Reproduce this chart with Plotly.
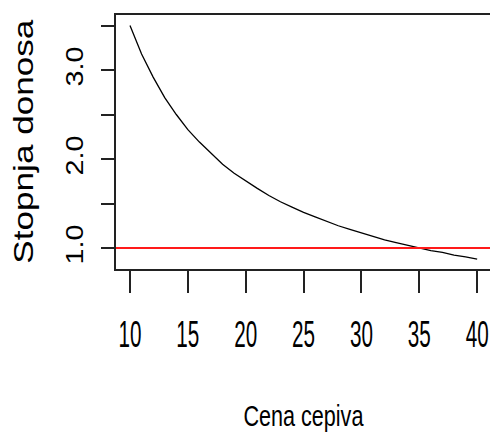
import plotly.graph_objects as go

# Vaccine price (Cena cepiva) and the resulting rate of return (Stopnja donosa)
cena = [10, 11, 12, 13, 14, 15, 16, 17, 18, 19, 20, 21, 22, 23, 24, 25,
        26, 27, 28, 29, 30, 31, 32, 33, 34, 35, 36, 37, 38, 39, 40]
donos = [3.50, 3.18, 2.92, 2.69, 2.50, 2.33, 2.19, 2.06, 1.94, 1.84, 1.75,
         1.67, 1.59, 1.52, 1.46, 1.40, 1.35, 1.30, 1.25, 1.21, 1.17, 1.13,
         1.09, 1.06, 1.03, 1.00, 0.97, 0.95, 0.92, 0.90, 0.875]
prag = 1.0  # break-even level

x_ticks = [10, 15, 20, 25, 30, 35, 40]
y_ticks = [1.0, 1.5, 2.0, 2.5, 3.0, 3.5]
y_labels = ["1.0", "", "2.0", "", "3.0", ""]

fig = go.Figure()
fig.add_trace(go.Scatter(x=cena, y=donos, mode="lines",
                         line=dict(color="black", width=1.3),
                         showlegend=False, hoverinfo="skip"))

fig.add_shape(type="line", xref="paper", x0=0, x1=1, yref="y", y0=prag, y1=prag,
              line=dict(color="#ff1a1a", width=2.2))

font = "Liberation Sans, Arial, sans-serif"

fig.update_layout(
    width=490, height=436,
    margin=dict(l=116, r=0, t=15, b=167, autoexpand=False),
    paper_bgcolor="white", plot_bgcolor="white",
    xaxis=dict(range=[8.79, 41.11], tickvals=x_ticks, automargin=False,
               ticks="outside", ticklen=22, tickwidth=1.5, tickcolor="#222",
               showline=True, linecolor="#222", linewidth=1.5, mirror=True,
               showgrid=False, zeroline=False, ticklabeloverflow="allow",
               tickfont=dict(family=font, size=37, color="black"),
               ticklabelstandoff=10),
    yaxis=dict(range=[0.764, 3.618], tickvals=y_ticks, ticktext=y_labels,
               automargin=False,
               ticks="outside", ticklen=13, tickwidth=1.5, tickcolor="#222",
               showline=True, linecolor="#222", linewidth=1.5,
               showgrid=False, zeroline=False, tickangle=-90,
               tickfont=dict(family=font, size=24, color="black"),
               ticklabelstandoff=9),
    annotations=[
        dict(text="Cena cepiva", xref="paper", yref="paper", x=0.5, y=-0.575,
             xanchor="center", yanchor="middle", showarrow=False,
             font=dict(family=font, size=30, color="black")),
        dict(text="Stopnja donosa", xref="paper", yref="paper", x=-0.246, y=0.504,
             xanchor="center", yanchor="middle", showarrow=False, textangle=-90,
             font=dict(family=font, size=28, color="black")),
    ],
)

# Fit label text to fixed run lengths (condensed x labels, stretched y labels)
post = """
var gd = document.getElementById('{plot_id}');
function fit(sel, w) {
  gd.querySelectorAll(sel).forEach(function (t) {
    if (!t.textContent.trim()) return;
    t.setAttribute('lengthAdjust', 'spacingAndGlyphs');
    t.setAttribute('textLength', typeof w === 'function' ? w(t) : w);
  });
}
fit('.xtick text', 23);
fit('.ytick text', 40);
fit('.annotation-text', function (t) {
  return t.textContent.indexOf('Cena') === 0 ? 120 : 244;
});
"""

fig.write_html("out.html", post_script=post)
